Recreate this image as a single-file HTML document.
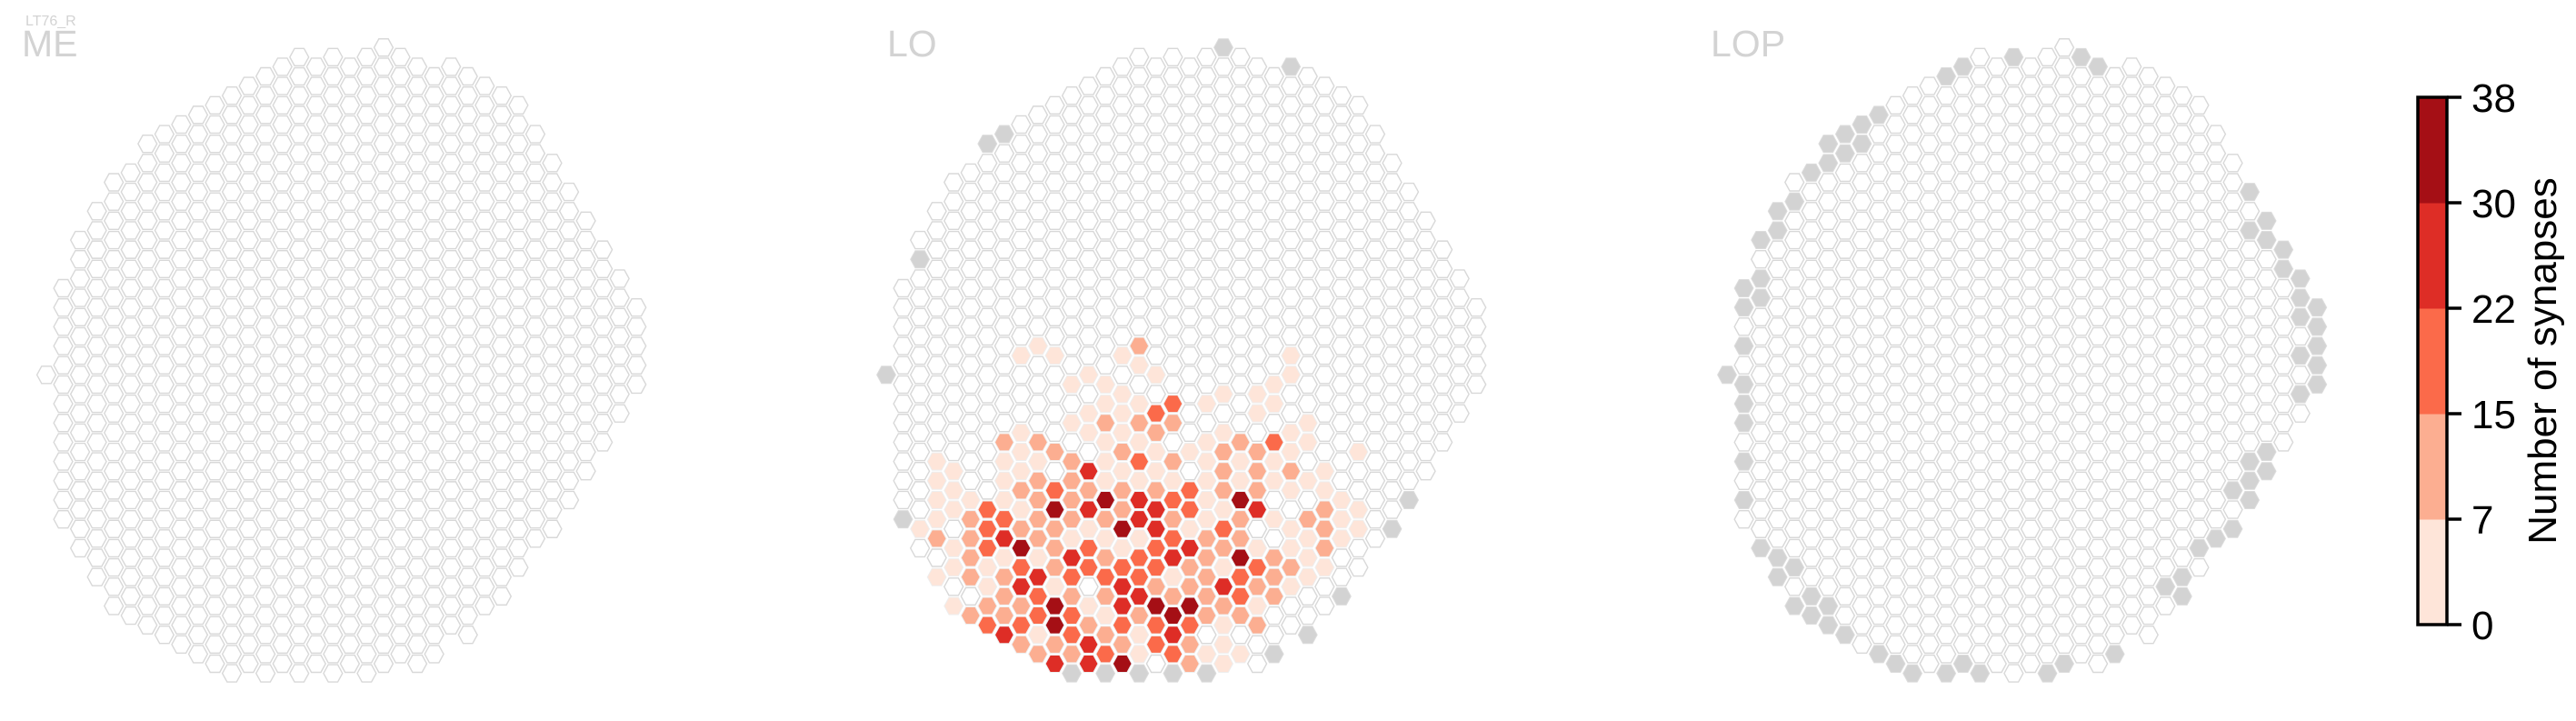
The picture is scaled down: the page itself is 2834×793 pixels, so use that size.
<!DOCTYPE html>
<html><head><meta charset="utf-8"><style>
html,body{margin:0;padding:0;background:#fff;}
svg{display:block;font-family:"Liberation Sans",Arial,sans-serif;}
</style></head><body>
<svg id="chart" width="2834" height="793" viewBox="0 0 2834 793" xmlns="http://www.w3.org/2000/svg">
<text x="28" y="28" font-size="16" fill="#d3d3d3">LT76_R</text>
<text x="24" y="62" font-size="41" fill="#d3d3d3">ME</text>
<text x="976" y="62" font-size="41" fill="#d3d3d3">LO</text>
<text x="1882" y="62" font-size="41" fill="#d3d3d3">LOP</text>
<g id="panels"></g>
<g id="colorbar"></g>
</svg>
<script>
// grid shape (row index of top/bottom hex per column)
const colTop = [0,-4.5,-7,-8.5,-10,-10.5,-12,-12.5,-13,-13.5,-14,-14.5,-15,-15.5,-16,-16.5,-16,-16.5,-16,-16.5,-17,-16.5,-16,-15.5,-16,-15.5,-15,-14.5,-14,-12.5,-11,-9.5,-8,-6.5,-5,-3.5];
const colBot = [0,7.5,9,10.5,12,12.5,13,13.5,14,14.5,15,15.5,15,15.5,15,15.5,15,15.5,15,15.5,15,14.5,15,14.5,13,13.5,12,11.5,10,8.5,8,6.5,5,3.5,2,0.5];
const panelNames = ["me","lo","lop"];
// colorbar
const binEdges = [0,7,15,22,30,38];
const binColors = ["#fee5d9","#fcae91","#fb6a4a","#de2d26","#a50f15"];
const tickLabels = ["0","7","15","22","30","38"];
// LO synapse counts [column,row,count]
const loCells = [
[9,-1.5,3],[15,-1.5,11],
[8,-1,3],[10,-1,3],[14,-1,3],[24,-1,3],
[15,-0.5,3],
[12,0,3],[16,0,3],[24,0,3],
[11,0.5,3],[13,0.5,3],[23,0.5,3],
[14,1,3],[20,1,3],[22,1,3],
[13,1.5,3],[15,1.5,3],[17,1.5,18],[19,1.5,3],[23,1.5,3],
[12,2,3],[14,2,3],[16,2,18],[22,2,3],
[11,2.5,3],[13,2.5,11],[15,2.5,11],[17,2.5,11],[25,2.5,3],
[8,3,3],[12,3,3],[14,3,3],[16,3,11],[20,3,3],[24,3,3],
[7,3.5,11],[9,3.5,11],[13,3.5,3],[15,3.5,3],[19,3.5,3],[21,3.5,11],[23,3.5,18],[25,3.5,3],
[8,4,3],[10,4,11],[14,4,11],[16,4,3],[18,4,3],[20,4,11],[22,4,11],[24,4,3],[28,4,3],
[3,4.5,3],[7,4.5,3],[9,4.5,3],[11,4.5,11],[13,4.5,3],[15,4.5,18],[17,4.5,11],[19,4.5,3],[21,4.5,3],[23,4.5,3],
[4,5,3],[8,5,3],[12,5,26],[14,5,3],[16,5,3],[20,5,11],[22,5,11],[24,5,11],[26,5,3],
[3,5.5,3],[7,5.5,3],[9,5.5,11],[11,5.5,11],[13,5.5,3],[15,5.5,3],[17,5.5,3],[19,5.5,3],[21,5.5,3],[23,5.5,3],[25,5.5,3],
[4,6,3],[8,6,11],[10,6,18],[12,6,11],[14,6,11],[16,6,11],[18,6,18],[20,6,11],[22,6,11],[24,6,3],[26,6,3],
[3,6.5,3],[5,6.5,3],[7,6.5,3],[9,6.5,11],[11,6.5,11],[13,6.5,34],[15,6.5,26],[17,6.5,18],[19,6.5,3],[21,6.5,34],[27,6.5,3],
[4,7,3],[6,7,18],[8,7,3],[10,7,34],[12,7,26],[14,7,11],[16,7,26],[18,7,18],[20,7,3],[22,7,26],[26,7,11],[28,7,3],
[3,7.5,3],[5,7.5,11],[7,7.5,18],[9,7.5,11],[11,7.5,11],[13,7.5,11],[15,7.5,26],[17,7.5,11],[19,7.5,3],[21,7.5,11],[23,7.5,3],[25,7.5,11],[27,7.5,3],
[2,8,3],[6,8,18],[8,8,11],[10,8,11],[12,8,3],[14,8,34],[16,8,26],[18,8,3],[20,8,18],[24,8,3],[26,8,11],[28,8,3],
[3,8.5,11],[5,8.5,11],[7,8.5,26],[9,8.5,11],[11,8.5,3],[13,8.5,3],[15,8.5,3],[17,8.5,18],[19,8.5,11],[21,8.5,11],[25,8.5,3],[27,8.5,3],
[4,9,3],[6,9,18],[8,9,34],[10,9,11],[12,9,18],[14,9,3],[16,9,18],[18,9,26],[20,9,11],[22,9,3],[24,9,3],[26,9,11],
[5,9.5,11],[7,9.5,3],[9,9.5,3],[11,9.5,26],[13,9.5,11],[15,9.5,18],[17,9.5,26],[19,9.5,11],[21,9.5,34],[23,9.5,11],[25,9.5,3],
[4,10,3],[6,10,3],[8,10,18],[10,10,11],[12,10,18],[14,10,18],[16,10,18],[18,10,11],[20,10,3],[22,10,18],[24,10,11],[26,10,3],
[3,10.5,3],[5,10.5,11],[7,10.5,11],[9,10.5,26],[11,10.5,18],[13,10.5,18],[15,10.5,18],[17,10.5,3],[19,10.5,11],[21,10.5,18],[23,10.5,11],[25,10.5,3],
[6,11,3],[8,11,26],[10,11,3],[14,11,26],[16,11,11],[18,11,11],[20,11,26],[22,11,11],[24,11,3],
[7,11.5,11],[9,11.5,18],[11,11.5,11],[13,11.5,11],[15,11.5,26],[17,11.5,11],[19,11.5,11],[21,11.5,18],[23,11.5,11],
[4,12,3],[6,12,11],[8,12,11],[10,12,34],[12,12,3],[14,12,26],[16,12,34],[18,12,34],[20,12,11],[22,12,3],
[5,12.5,11],[7,12.5,11],[9,12.5,18],[11,12.5,18],[13,12.5,3],[15,12.5,11],[17,12.5,34],[19,12.5,11],[21,12.5,11],
[6,13,18],[8,13,18],[10,13,34],[12,13,11],[14,13,18],[16,13,18],[18,13,18],[20,13,3],[22,13,11],
[7,13.5,26],[9,13.5,3],[11,13.5,18],[13,13.5,11],[15,13.5,3],[17,13.5,26],
[8,14,11],[10,14,11],[12,14,26],[14,14,11],[16,14,18],[18,14,11],[20,14,3],
[9,14.5,11],[11,14.5,11],[13,14.5,18],[15,14.5,3],[17,14.5,18],[19,14.5,3],[21,14.5,3],
[10,15,26],[12,15,26],[14,15,34],[18,15,11],[20,15,3]
];
// columns/rows of cells with no data (grey)
const loGrey = [[20,-17],[24,-16],[6,-12],[7,-12.5],[2,-6],[0,0],[1,7.5],[31,6.5],[30,8],[27,11.5],[25,13.5],[23,14.5],[11,15.5],[13,15.5],[15,15.5],[17,15.5],[19,15.5]];
const lopGrey = [[17,-16.5],[21,-16.5],[22,-16],[14,-16],[13,-15.5],[9,-13.5],[8,-13],[7,-12.5],[8,-12],[6,-12],[7,-11.5],[6,-11],[5,-10.5],[4,-9],[3,-8.5],[3,-7.5],[2,-7],[2,-5],[1,-4.5],[2,-4],[1,-3.5],[1,-1.5],[0,0],[1,0.5],[1,1.5],[1,2.5],[1,4.5],[1,6.5],[2,9],[3,9.5],[4,10],[3,10.5],[5,11.5],[6,12],[4,12],[5,12.5],[6,13],[7,13.5],[9,14.5],[10,15],[11,15.5],[13,15.5],[14,15],[15,15.5],[19,15.5],[20,15],[23,14.5],[31,-9.5],[32,-8],[31,-7.5],[32,-7],[33,-6.5],[33,-5.5],[34,-5],[34,-4],[35,-3.5],[34,-3],[35,-2.5],[35,-1.5],[34,-1],[35,-0.5],[35,0.5],[34,1],[32,4],[31,4.5],[32,5],[31,5.5],[30,6],[31,6.5],[30,8],[29,8.5],[28,9],[27,10.5],[26,11],[27,11.5]];
const meGrey = [];

const NS="http://www.w3.org/2000/svg";
const panelX0=[51,975,1900], Y0=412.3, DX=18.55, DY=21.18, HW=10.4, HH=9.5;
function xPos(p,c){return panelX0[p]+c*DX;}
function yPos(r){return Y0+r*DY;}
function colorFor(v){for(let i=0;i<binColors.length;i++){if(v<=binEdges[i+1])return binColors[i];}return binColors[binColors.length-1];}
function hexPts(x,y){return [[x-HW,y],[x-HW/2,y-HH],[x+HW/2,y-HH],[x+HW,y],[x+HW/2,y+HH],[x-HW/2,y+HH]].map(p=>p[0].toFixed(2)+","+p[1].toFixed(2)).join(" ");}
const root=document.getElementById("panels");
const panelData=[{cells:[],grey:meGrey},{cells:loCells,grey:loGrey},{cells:[],grey:lopGrey}];
panelData.forEach((pd,p)=>{
  const g=document.createElementNS(NS,"g");
  
  
  root.appendChild(g);
  const key=(c,r)=>c+"_"+r;
  const vals={}; pd.cells.forEach(d=>vals[key(d[0],d[1])]=d[2]);
  const greys={}; pd.grey.forEach(d=>greys[key(d[0],d[1])]=1);
  for(let c=0;c<colTop.length;c++){
    for(let r=colTop[c];r<=colBot[c]+0.01;r+=1){
      const k=key(c,r);
      const poly=document.createElementNS(NS,"polygon");
      poly.setAttribute("points",hexPts(xPos(p,c),yPos(r)));
      if(vals[k]!==undefined){
        poly.setAttribute("fill",colorFor(vals[k]));poly.setAttribute("stroke","#eeeeee");poly.setAttribute("stroke-width","1");
        
      } else if(greys[k]){
        poly.setAttribute("fill","#d3d3d3");poly.setAttribute("stroke","#dcdcdc");poly.setAttribute("stroke-width","1");
        
      } else {
        poly.setAttribute("fill","#ffffff");poly.setAttribute("stroke","#d8d8d8");poly.setAttribute("stroke-width","1.4");
        
      }
      
      g.appendChild(poly);
    }
  }
});
// colorbar
const cb=document.getElementById("colorbar");
const cbX=2660,cbW=32,cbTop=107,cbBot=687;
const nb=binColors.length;
function cbY(i){return cbBot-(cbBot-cbTop)*i/nb;}
binColors.forEach((col,i)=>{
  const r=document.createElementNS(NS,"rect");
  r.setAttribute("x",cbX);r.setAttribute("y",cbY(i+1));r.setAttribute("width",cbW);r.setAttribute("height",cbY(i)-cbY(i+1)+0.5);r.setAttribute("fill",col);
  
  
  cb.appendChild(r);
});
const frame=document.createElementNS(NS,"rect");
frame.setAttribute("x",cbX);frame.setAttribute("y",cbTop);frame.setAttribute("width",cbW);frame.setAttribute("height",cbBot-cbTop);frame.setAttribute("fill","none");frame.setAttribute("stroke","#000");frame.setAttribute("stroke-width","3.5");


cb.appendChild(frame);
tickLabels.forEach((t,i)=>{
  const y=cbY(i);
  const ln=document.createElementNS(NS,"line");
  ln.setAttribute("x1",cbX+cbW);ln.setAttribute("x2",cbX+cbW+16);ln.setAttribute("y1",y);ln.setAttribute("y2",y);ln.setAttribute("stroke","#000");ln.setAttribute("stroke-width","3.5");
  
  
  cb.appendChild(ln);
  const tx=document.createElementNS(NS,"text");
  tx.setAttribute("x",2719);tx.setAttribute("y",y+16);tx.setAttribute("font-size","44");tx.setAttribute("fill","#000");
  tx.textContent=t;
  
  
  cb.appendChild(tx);
});
const lab=document.createElementNS(NS,"text");
lab.setAttribute("x",0);lab.setAttribute("y",0);lab.setAttribute("font-size","44");lab.setAttribute("text-anchor","middle");lab.setAttribute("fill","#000");
lab.setAttribute("transform","translate(2812,397) rotate(-90)");
lab.textContent="Number of synapses";


cb.appendChild(lab);
</script>
</body></html>
